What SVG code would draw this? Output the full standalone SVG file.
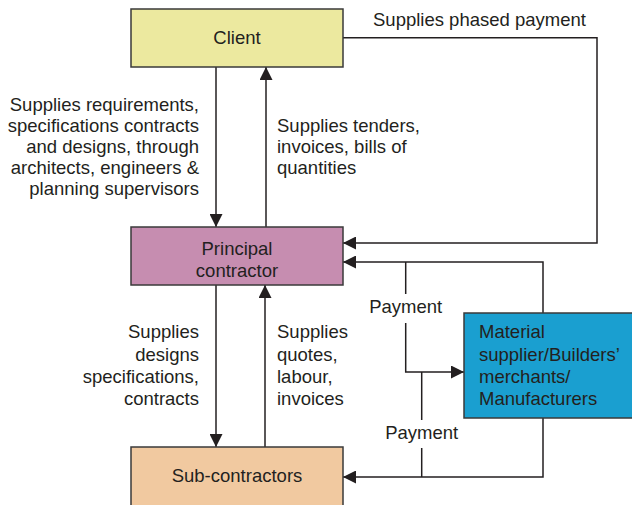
<svg xmlns="http://www.w3.org/2000/svg" width="632" height="505" viewBox="0 0 632 505">
<defs>
<marker id="ah" viewBox="0 0 13 13" refX="13" refY="6.5" markerWidth="13" markerHeight="13" markerUnits="userSpaceOnUse" orient="auto">
<path d="M0,0 L13,6.5 L0,13 z" fill="#231f20"/>
</marker>
<style>
.box{stroke:#3a3a3a;stroke-width:1.5}
.t{font-family:"Liberation Sans",Arial,sans-serif;font-size:18.5px;fill:#231f20}
.c{text-anchor:middle}
.r{text-anchor:end}
.ln{fill:none;stroke:#231f20;stroke-width:1.5}
.a{marker-end:url(#ah)}
</style>
</defs>
<rect width="632" height="505" fill="#ffffff"/>
<g id="connectors">
<path class="ln a" d="M216,67 V227"/>
<path class="ln a" d="M266,227 V67"/>
<path class="ln a" d="M343,37.7 H597 V243 H343"/>
<path class="ln a" d="M543,313 V262 H343"/>
<path class="ln" d="M405.7,262 V294"/>
<path class="ln a" d="M405.7,323 V372 H464"/>
<path class="ln" d="M421.7,372 V420"/>
<path class="ln" d="M421.7,448 V477"/>
<path class="ln a" d="M543,418 V477 H343"/>
<path class="ln a" d="M216,285 V447"/>
<path class="ln a" d="M265,447 V285"/>
</g>
<g id="labels">
<text class="t" x="373" y="26">Supplies phased payment</text>
<text class="t r"><tspan x="199" y="111">Supplies requirements,</tspan><tspan x="199" y="132">specifications contracts</tspan><tspan x="199" y="153">and designs, through</tspan><tspan x="199" y="174">architects, engineers &amp;</tspan><tspan x="199" y="195">planning supervisors</tspan></text>
<text class="t"><tspan x="277" y="132">Supplies tenders,</tspan><tspan x="277" y="153">invoices, bills of</tspan><tspan x="277" y="174">quantities</tspan></text>
<text class="t r"><tspan x="199" y="338">Supplies</tspan><tspan x="199" y="361">designs</tspan><tspan x="199" y="383">specifications,</tspan><tspan x="199" y="405">contracts</tspan></text>
<text class="t"><tspan x="277" y="338">Supplies</tspan><tspan x="277" y="361">quotes,</tspan><tspan x="277" y="383">labour,</tspan><tspan x="277" y="405">invoices</tspan></text>
<text class="t c" x="405.7" y="313">Payment</text>
<text class="t c" x="421.7" y="439">Payment</text>
</g>
<g id="client">
<rect class="box" x="131" y="9" width="212" height="58" fill="#ece99f"/>
<text class="t c" x="237" y="44">Client</text>
</g>
<g id="principal">
<rect class="box" x="131" y="227" width="212" height="58" fill="#c68db0"/>
<text class="t c"><tspan x="237" y="255">Principal</tspan><tspan x="237" y="277">contractor</tspan></text>
</g>
<g id="material">
<rect class="box" x="464" y="313" width="180" height="105" fill="#1a9fd0"/>
<text class="t"><tspan x="479" y="338">Material</tspan><tspan x="479" y="361">supplier/Builders’</tspan><tspan x="479" y="383">merchants/</tspan><tspan x="479" y="405">Manufacturers</tspan></text>
</g>
<g id="subcontractors">
<rect class="box" x="131" y="447" width="212" height="70" fill="#f1c9a0"/>
<text class="t c" x="237" y="482">Sub-contractors</text>
</g>
</svg>
